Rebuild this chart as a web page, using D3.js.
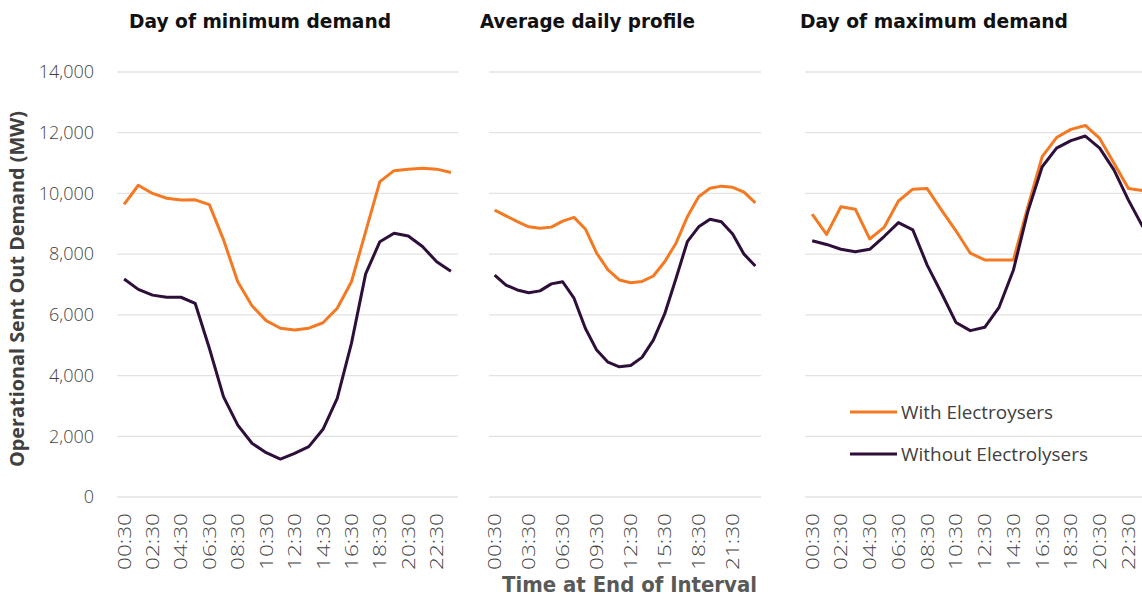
<!DOCTYPE html>
<html>
<head>
<meta charset="utf-8">
<script src="https://cdn.jsdelivr.net/npm/d3@7"></script>
<style>
  body { margin: 0; background: #fff; }
  svg { display: block; }
  .grid line { stroke: #e3e3e3; stroke-width: 1.3; }
  .tick text { fill: #3f3f3f; }
</style>
</head>
<body>
<svg id="chart" width="1142" height="599"></svg>
<script>
// hourly intervals, end of interval
var hours = ["00:30","01:30","02:30","03:30","04:30","05:30","06:30","07:30","08:30","09:30","10:30","11:30",
             "12:30","13:30","14:30","15:30","16:30","17:30","18:30","19:30","20:30","21:30","22:30","23:30"];

var minWith = [9640,10270,10000,9840,9780,9790,9630,8470,7090,6300,5810,5560,5500,5560,5740,6220,7090,8740,10390,10750,10800,10830,10800,10690];
var minWithout = [7180,6840,6650,6580,6580,6380,4900,3300,2370,1770,1460,1250,1440,1660,2230,3250,5060,7350,8410,8690,8600,8250,7750,7440];

var avgWith = [9450,9260,9070,8900,8850,8890,9090,9210,8830,8030,7480,7150,7060,7100,7280,7750,8360,9230,9890,10170,10240,10200,10040,9690];
var avgWithout = [7310,6980,6820,6730,6790,7020,7090,6550,5560,4840,4440,4290,4330,4600,5170,6030,7200,8410,8900,9150,9070,8660,8000,7610];

var maxWith = [9320,8650,9560,9480,8500,8880,9750,10140,10160,9450,8770,8030,7810,7810,7810,9560,11210,11840,12110,12240,11810,10990,10160,10090];
var maxWithout = [8440,8320,8160,8080,8160,8580,9040,8800,7640,6710,5750,5480,5590,6250,7480,9400,10880,11490,11740,11890,11490,10770,9780,8900];

var minTicks = ["00:30","02:30","04:30","06:30","08:30","10:30","12:30","14:30","16:30","18:30","20:30","22:30"];
var avgTicks = ["00:30","03:30","06:30","09:30","12:30","15:30","18:30","21:30"];
var maxTicks = minTicks;

var yTicks = [0,2000,4000,6000,8000,10000,12000,14000];

var colWith = "#f37a22", colWithout = "#2d0f3a";

var svg = d3.select("#chart");

var y = d3.scaleLinear().domain([0, 14000]).range([497, 72]);

var panels = [
  {title: "Day of minimum demand", x0: 117, x1: 458, w: minWith, wo: minWithout, ticks: minTicks, tx: 129, tw: 262},
  {title: "Average daily profile", x0: 489, x1: 761, w: avgWith, wo: avgWithout, ticks: avgTicks, tx: 480, tw: 215},
  {title: "Day of maximum demand", x0: 805, x1: 1150, w: maxWith, wo: maxWithout, ticks: maxTicks, tx: 800, tw: 268}
];

var fmt = d3.format(",");

panels.forEach(function(p, pi) {
  var x = d3.scaleBand().domain(hours).range([p.x0, p.x1]);
  var cx = function(h) { return x(h) + x.bandwidth() / 2; };

  // gridlines
  svg.append("g").attr("class", "grid")
    .selectAll("line").data(yTicks).enter().append("line")
    .attr("x1", p.x0).attr("x2", p.x1)
    .attr("y1", function(d) { return y(d); })
    .attr("y2", function(d) { return y(d); });

  // x axis labels
  var xa = svg.append("g")
    .attr("transform", "translate(0," + 497 + ")")
    .call(d3.axisBottom(x).tickValues(p.ticks).tickSize(0).tickPadding(0));
  xa.select(".domain").remove();
  xa.selectAll(".tick text")
    .attr("transform", "rotate(-90)")
    .attr("text-anchor", "end")
    .attr("x", -16).attr("y", 0).attr("dy", "0.36em")
    .attr("textLength", 57).attr("lengthAdjust", "spacingAndGlyphs")
    .style("font-family", "'Open Sans', Lato, sans-serif")
    .style("font-weight", "300")
    .style("font-size", "18px");

  var line = d3.line()
    .x(function(d, i) { return cx(hours[i]); })
    .y(function(d) { return y(d); });

  svg.append("path").datum(p.w)
    .attr("d", line).attr("fill", "none")
    .attr("stroke", colWith).attr("stroke-width", 3).attr("stroke-linejoin", "round");
  svg.append("path").datum(p.wo)
    .attr("d", line).attr("fill", "none")
    .attr("stroke", colWithout).attr("stroke-width", 3).attr("stroke-linejoin", "round");

  svg.append("text")
    .attr("x", p.tx).attr("y", 28)
    .attr("textLength", p.tw).attr("lengthAdjust", "spacingAndGlyphs")
    .style("font-family", "'DejaVu Sans', sans-serif")
    .style("font-weight", "bold")
    .style("font-size", "19px")
    .attr("fill", "#111")
    .text(p.title);
});

// y axis (left panel only)
var ya = svg.append("g")
  .attr("transform", "translate(94,0)")
  .call(d3.axisLeft(y).tickValues(yTicks).tickFormat(fmt).tickSize(0).tickPadding(0));
ya.select(".domain").remove();
ya.selectAll(".tick text")
  .style("font-family", "'Open Sans', Lato, sans-serif")
  .style("font-weight", "300")
  .style("font-size", "18px");

// axis titles
svg.append("text")
  .attr("transform", "translate(24,289) rotate(-90)")
  .attr("text-anchor", "middle")
  .attr("textLength", 356).attr("lengthAdjust", "spacingAndGlyphs")
  .style("font-family", "'Open Sans', sans-serif")
  .style("font-weight", "bold")
  .style("font-size", "19px")
  .attr("fill", "#404040")
  .text("Operational Sent Out Demand (MW)");

svg.append("text")
  .attr("x", 502).attr("y", 592)
  .attr("textLength", 255).attr("lengthAdjust", "spacingAndGlyphs")
  .style("font-family", "'DejaVu Sans', sans-serif")
  .style("font-weight", "bold")
  .style("font-size", "21px")
  .attr("fill", "#595959")
  .text("Time at End of Interval");

// legend
var legend = [
  {name: "With Electroysers", color: colWith, y: 412, len: 152},
  {name: "Without Electrolysers", color: colWithout, y: 454, len: 187}
];
var lg = svg.append("g").selectAll("g").data(legend).enter().append("g");
lg.append("line")
  .attr("x1", 850).attr("x2", 897)
  .attr("y1", function(d) { return d.y; }).attr("y2", function(d) { return d.y; })
  .attr("stroke", function(d) { return d.color; }).attr("stroke-width", 3);
lg.append("text")
  .attr("x", 901).attr("y", function(d) { return d.y + 7; })
  .attr("textLength", function(d) { return d.len; }).attr("lengthAdjust", "spacingAndGlyphs")
  .style("font-family", "'Open Sans', sans-serif")
  .style("font-size", "19px")
  .attr("fill", "#404040")
  .text(function(d) { return d.name; });
</script>
</body>
</html>
